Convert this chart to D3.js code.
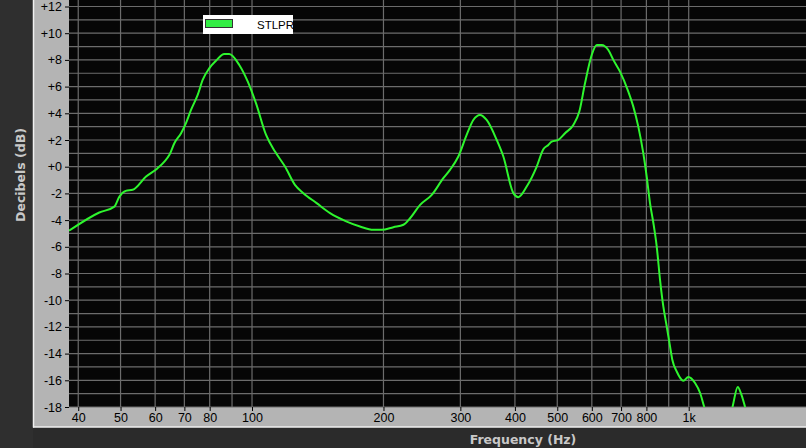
<!DOCTYPE html>
<html>
<head>
<meta charset="utf-8">
<script src="https://cdn.jsdelivr.net/npm/d3@7"></script>
<style>
	html, body { margin:0; padding:0; background:#2b2b2b; }
	svg { display:block; }
</style>
</head>
<body>
<div id="chart"></div>
<script>
// values: frequency (Hz) and level (dB)
var freqs = [38.1, 44.7, 48.4, 49.7, 51.4, 53.3, 57.2, 60.8, 63.0, 64.7, 66.4, 68.8, 70.6, 72.5, 75.1, 77.1,
	79.8, 82.7, 86.4, 88.7, 93.5, 97.8, 102.1, 107.7, 112.9, 119.0, 125.4, 131.1, 140.6, 150.9, 164.8,
	176.7, 189.6, 198.2, 210.7, 222.2, 230.1, 242.6, 258.0, 274.2, 284.0, 296.8, 310.1, 321.2, 332.7,
	344.6, 363.4, 376.3, 396.7, 407.3, 425.6, 448.7, 464.6, 477.0, 485.6, 502.8, 520.9, 544.2, 561.7,
	578.8, 599.6, 615.6, 632.0, 654.5, 672.0, 696.2, 727.3, 746.7, 766.6, 787.0, 801.3, 815.4, 829.8,
	844.8, 859.7, 874.7, 890.6, 906.2, 917.2, 938.7, 971.9, 997.9, 1034, 1062, 1084, 1119, 1179, 1230,
	1261, 1295, 1318, 1346, 1396, 1500, 1860];
var levels = [-4.8, -3.43, -2.99, -2.24, -1.81, -1.73, -0.74, -0.11, 0.38, 0.89, 1.76, 2.51, 3.26, 4.25, 5.38, 6.5,
	7.37, 7.94, 8.44, 8.44, 7.62, 6.37, 4.76, 2.38, 1.13, 0.01, -1.36, -1.98, -2.73, -3.48, -4.11,
	-4.48, -4.73, -4.73, -4.53, -4.35, -3.86, -2.86, -2.11, -0.86, -0.24, 0.76, 2.38, 3.5, 3.88,
	3.5, 2.0, 0.76, -1.98, -2.28, -1.49, 0.01, 1.3, 1.63, 1.88, 2.01, 2.51, 3.13, 4.13,
	6.25, 8.37, 9.12, 9.12, 8.74, 8.0, 7.12, 5.62, 4.5, 3.0, 1.01, -0.74, -2.73, -4.2,
	-5.98, -8.47, -10.47, -11.97, -13.46, -14.46, -15.34, -16.03, -15.75, -16.2, -16.95, -17.95, -19.5, -21, -19.5,
	-17.95, -16.5, -17.0, -18.0, -20, -22, -24];

var seriesName = 'STLPR';
var xTicks = [40, 50, 60, 70, 80, 100, 200, 300, 400, 500, 600, 700, 800, 1000];
var xTickLabels = ['40', '50', '60', '70', '80', '100', '200', '300', '400', '500', '600', '700', '800', '1k'];
var xGrid = [40, 50, 60, 70, 80, 90, 100, 200, 300, 400, 500, 600, 700, 800, 900, 1000];
var yTicks = d3.range(-18, 13, 2);
var yGrid = d3.range(-18, 13, 1);

var W = 806, H = 448;
var plot = {left:69, right:806, top:6.5, bottom:407};

var svg = d3.select('#chart').append('svg')
	.attr('width', W)
	.attr('height', H);

// backgrounds
svg.append('rect').attr('x', 0).attr('y', 0).attr('width', W).attr('height', H).attr('fill', '#2b2b2b');
svg.append('rect').attr('x', 0).attr('y', 0).attr('width', 33).attr('height', H).attr('fill', '#2f2f2f');
svg.append('rect').attr('x', 33).attr('y', 0).attr('width', W - 33).attr('height', 427).attr('fill', '#b4b4b4');
svg.append('line').attr('x1', 33.5).attr('x2', 33.5).attr('y1', 0).attr('y2', 427.5).attr('stroke', '#f0f0f0').attr('stroke-width', 1.5);
svg.append('line').attr('x1', 33).attr('x2', W).attr('y1', 427).attr('y2', 427).attr('stroke', '#f0f0f0').attr('stroke-width', 1.5);
svg.append('rect').attr('x', plot.left).attr('y', 0).attr('width', plot.right - plot.left).attr('height', plot.bottom)
	.attr('fill', '#060606');

// scales
var x = d3.scaleLog().domain([38.1, 1856]).range([plot.left, plot.right]);
var y = d3.scaleLinear().domain([-18, 12]).range([plot.bottom, plot.top]);

// grid
var grid = svg.append('g').attr('stroke', '#6c6c6c').attr('stroke-width', 1.2);
grid.selectAll('line.h').data(yGrid).enter().append('line')
	.attr('x1', plot.left).attr('x2', plot.right)
	.attr('y1', function(d){ return y(d); }).attr('y2', function(d){ return y(d); });
grid.selectAll('line.v').data(xGrid).enter().append('line')
	.attr('y1', 0).attr('y2', plot.bottom)
	.attr('x1', function(d){ return x(d); }).attr('x2', function(d){ return x(d); });

// axes
var yAxis = d3.axisLeft(y).tickValues(yTicks).tickSize(4).tickPadding(3)
	.tickFormat(function(d){ return d > 0 ? '+' + d : (d === 0 ? '+0' : String(d)); });
var gy = svg.append('g').attr('transform', 'translate(' + plot.left + ',0)').call(yAxis);
gy.select('.domain').remove();
gy.selectAll('line').attr('stroke', '#000');
gy.selectAll('text').attr('fill', '#000').style('font-family', 'Liberation Sans, Arial, sans-serif').style('font-size', '12.5px');

var xAxis = d3.axisBottom(x).tickValues(xTicks).tickSize(4).tickPadding(2)
	.tickFormat(function(d, i){ return xTickLabels[i]; });
var gx = svg.append('g').attr('transform', 'translate(0,' + plot.bottom + ')').call(xAxis);
gx.select('.domain').remove();
gx.selectAll('line').attr('stroke', '#000');
gx.selectAll('text').attr('fill', '#000').style('font-family', 'Liberation Sans, Arial, sans-serif').style('font-size', '12.5px');

// curve
svg.append('clipPath').attr('id', 'plotclip').append('rect')
	.attr('x', plot.left).attr('y', 0).attr('width', plot.right - plot.left).attr('height', plot.bottom);
var pts = freqs.map(function(f, i){ return [f, levels[i]]; });
var line = d3.line()
	.x(function(d){ return x(d[0]); })
	.y(function(d){ return y(d[1]); })
	.curve(d3.curveMonotoneX);
svg.append('path')
	.datum(pts)
	.attr('clip-path', 'url(#plotclip)')
	.attr('d', line)
	.attr('fill', 'none')
	.attr('stroke', '#2ef52e')
	.attr('stroke-width', 2);

// legend
var lg = svg.append('g');
lg.append('rect').attr('x', 203).attr('y', 15).attr('width', 90).attr('height', 19).attr('fill', '#fff');
lg.append('rect').attr('x', 205.5).attr('y', 19.5).attr('width', 27).attr('height', 8)
	.attr('fill', '#33ee44').attr('stroke', '#333').attr('stroke-width', 1);
lg.append('text').attr('x', 257).attr('y', 29).text(seriesName)
	.style('font-family', 'Liberation Sans, Arial, sans-serif').style('font-size', '11.5px').attr('fill', '#000');

// axis titles
svg.append('text').attr('x', 523).attr('y', 444).attr('text-anchor', 'middle')
	.text('Frequency (Hz)')
	.style('font-family', 'DejaVu Sans, sans-serif').style('font-size', '12.5px').style('font-weight', 'bold')
	.attr('fill', '#c8c8c8');
svg.append('text').attr('transform', 'translate(25,175) rotate(-90)').attr('text-anchor', 'middle')
	.text('Decibels (dB)')
	.style('font-family', 'DejaVu Sans, sans-serif').style('font-size', '12.5px').style('font-weight', 'bold')
	.attr('fill', '#c8c8c8');
</script>
</body>
</html>
